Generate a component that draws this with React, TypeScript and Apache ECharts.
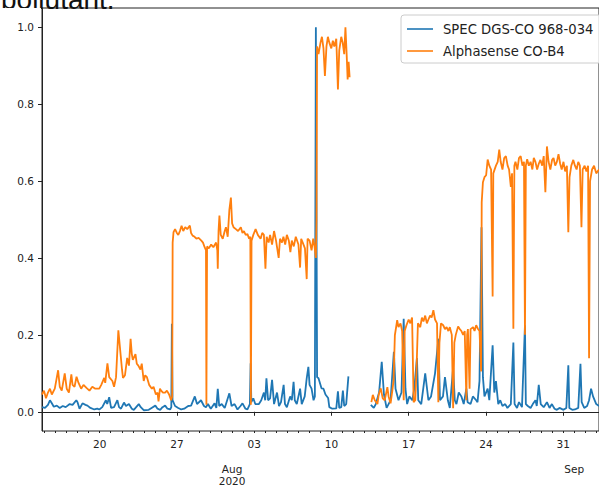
import React, { useEffect, useRef } from "react";
import * as echarts from "echarts";

// x = day counted from 1 July 2020 (20 = 20 Jul, 32 = 1 Aug, 63 = 1 Sep)
const xMin = 14.77;
const xMax = 65.25;

const yTickValues = [0, 0.2, 0.4, 0.6, 0.8, 1.0];
const majorTickDays = [20, 27, 34, 41, 48, 55, 62];
const majorTickLabels = ["20", "27", "03", "10", "17", "24", "31"];
const minorTickDays = [15, 16, 17, 18, 19, 20, 21, 22, 23, 24, 25, 26, 27, 28, 29, 30, 31, 32, 33, 34, 35, 36, 37, 38, 39, 40, 41, 42, 43, 44, 45, 46, 47, 48, 49, 50, 51, 52, 53, 54, 55, 56, 57, 58, 59, 60, 61, 62, 63, 64, 65];
const monthTickDays = [32, 63];
const monthTickLabels = ["Aug\n2020", "Sep"];

const seriesNames = ["SPEC DGS-CO 968-034", "Alphasense CO-B4"];

const specCO: [number, number | string][] = [
  [14.77, 0.012], [15.04, 0.010], [15.31, 0.018], [15.49, 0.030], [15.66, 0.022], [15.84, 0.013], [16.11, 0.016], [16.38, 0.010],
  [16.65, 0.015], [16.92, 0.012], [17.28, 0.020], [17.54, 0.018], [17.88, 0.030], [17.99, 0.025], [18.17, 0.008], [18.44, 0.022],
  [18.71, 0.018], [18.89, 0.016], [19.16, 0.010], [19.51, 0.006], [19.78, 0.008], [19.96, 0.006], [20.23, 0.012], [20.56, 0.030],
  [20.68, 0.020], [20.86, 0.038], [21.03, 0.010], [21.30, 0.012], [21.60, 0.030], [21.75, 0.012], [21.93, 0.008], [22.20, 0.024],
  [22.38, 0.015], [22.65, 0.020], [22.91, 0.008], [23.09, 0.005], [23.54, 0.020], [23.72, 0.012], [23.99, 0.004], [24.44, 0.005],
  [24.70, 0.010], [25.04, 0.016], [25.24, 0.008], [25.48, 0.005], [25.69, 0.012], [25.93, 0.016], [26.14, 0.008], [26.38, 0.006],
  [26.49, 0.012], [26.54, 0.229], [26.60, 0.030], [26.83, 0.015], [27.12, 0.010], [27.39, 0.006], [27.66, 0.008], [28.02, 0.015],
  [28.28, 0.016], [28.62, 0.040], [28.82, 0.020], [29.18, 0.030], [29.45, 0.015], [29.63, 0.012], [29.81, 0.020], [30.07, 0.008],
  [30.41, 0.022], [30.57, 0.010], [30.70, 0.060], [30.83, 0.015], [31.06, 0.020], [31.33, 0.010], [31.75, 0.048], [31.95, 0.015],
  [32.22, 0.020], [32.49, 0.006], [32.76, 0.015], [32.94, 0.022], [33.21, 0.008], [33.39, 0.006], [33.61, 0.020], [33.68, 0.126],
  [33.74, 0.025], [33.92, 0.035], [34.10, 0.020], [34.43, 0.020], [34.64, 0.030], [34.88, 0.050], [35.00, 0.030], [35.11, 0.087],
  [35.26, 0.030], [35.44, 0.035], [35.62, 0.083], [35.80, 0.020], [36.07, 0.050], [36.25, 0.015], [36.43, 0.025], [36.67, 0.070],
  [36.79, 0.020], [36.96, 0.012], [37.26, 0.040], [37.41, 0.030], [37.57, 0.078], [37.68, 0.030], [37.86, 0.020], [38.16, 0.060],
  [38.31, 0.020], [38.58, 0.040], [38.76, 0.087], [38.91, 0.117], [39.02, 0.070], [39.20, 0.060], [39.38, 0.030], [39.50, 0.040],
  [39.59, 1.000], [39.70, 0.090], [39.83, 0.087], [40.10, 0.061], [40.28, 0.060], [40.46, 0.045], [40.70, 0.036], [40.81, 0.012],
  [41.08, 0.008], [41.44, 0.009], [41.59, 0.053], [41.71, 0.010], [41.89, 0.012], [42.04, 0.055], [42.16, 0.015], [42.34, 0.020],
  [42.54, 0.092], [43.5, "-"],
  [44.57, 0.018], [44.84, 0.010], [45.02, 0.020], [45.32, 0.050], [45.56, 0.130], [45.76, 0.045], [46.00, 0.010], [46.18, 0.020],
  [46.36, 0.030], [46.66, 0.156], [46.81, 0.060], [47.08, 0.030], [47.35, 0.050], [47.55, 0.242], [47.71, 0.060], [47.86, 0.020],
  [48.06, 0.040], [48.33, 0.030], [48.51, 0.060], [48.75, 0.140], [48.87, 0.030], [49.14, 0.020], [49.50, 0.100], [49.79, 0.030],
  [50.03, 0.040], [50.39, 0.100], [50.69, 0.190], [50.84, 0.030], [51.11, 0.040], [51.29, 0.090], [51.55, 0.030], [51.73, 0.010],
  [52.03, 0.115], [52.18, 0.030], [52.33, 0.020], [52.54, 0.050], [52.78, 0.040], [52.99, 0.020], [53.23, 0.060], [53.34, 0.025],
  [53.61, 0.020], [53.82, 0.040], [54.12, 0.030], [54.24, 0.025], [54.42, 0.080], [54.60, 0.480], [54.73, 0.090], [54.87, 0.040],
  [55.16, 0.060], [55.31, 0.030], [55.61, 0.173], [55.76, 0.050], [55.91, 0.080], [56.12, 0.020], [56.30, 0.030], [56.50, 0.015],
  [56.75, 0.020], [56.95, 0.010], [57.26, 0.020], [57.49, 0.180], [57.60, 0.020], [57.82, 0.010], [58.00, 0.025], [58.27, 0.012],
  [58.54, 0.225], [58.62, 0.020], [58.80, 0.015], [59.05, 0.010], [59.25, 0.020], [59.49, 0.030], [59.61, 0.015], [59.79, 0.070],
  [59.97, 0.020], [60.24, 0.012], [60.53, 0.025], [60.77, 0.010], [60.98, 0.020], [61.22, 0.008], [61.43, 0.005], [61.67, 0.010],
  [62.03, 0.005], [62.29, 0.010], [62.47, 0.121], [62.56, 0.010], [62.83, 0.005], [63.07, 0.006], [63.37, 0.010], [63.57, 0.125],
  [63.68, 0.025], [63.91, 0.010], [64.17, 0.015], [64.35, 0.030], [64.53, 0.060], [64.71, 0.040], [65.00, 0.020], [65.25, 0.015],
];

const alphaCOB4: [number, number | string][] = [
  [14.77, 0.045], [14.95, 0.055], [15.13, 0.035], [15.31, 0.050], [15.49, 0.060], [15.66, 0.045], [15.93, 0.060], [16.23, 0.108],
  [16.38, 0.065], [16.56, 0.055], [16.83, 0.100], [17.01, 0.060], [17.21, 0.050], [17.43, 0.097], [17.54, 0.070], [17.72, 0.065],
  [17.90, 0.091], [18.08, 0.075], [18.32, 0.060], [18.53, 0.070], [18.80, 0.062], [19.07, 0.055], [19.33, 0.065], [19.60, 0.060],
  [19.96, 0.060], [20.14, 0.070], [20.41, 0.088], [20.50, 0.075], [20.70, 0.126], [20.86, 0.090], [21.15, 0.080], [21.30, 0.065],
  [21.48, 0.090], [21.69, 0.212], [21.90, 0.147], [22.02, 0.110], [22.11, 0.088], [22.29, 0.095], [22.49, 0.140], [22.65, 0.120],
  [22.80, 0.190], [22.91, 0.150], [23.00, 0.135], [23.24, 0.150], [23.36, 0.125], [23.50, 0.120], [23.69, 0.110], [23.81, 0.125],
  [23.99, 0.080], [24.12, 0.095], [24.28, 0.090], [24.48, 0.070], [24.73, 0.060], [24.88, 0.065], [25.09, 0.045], [25.24, 0.050],
  [25.33, 0.027], [25.46, 0.060], [25.57, 0.055], [25.73, 0.050], [25.93, 0.050], [26.09, 0.055], [26.29, 0.045], [26.47, 0.030],
  [26.57, 0.040], [26.61, 0.440], [26.69, 0.467], [26.83, 0.475], [26.99, 0.465], [27.12, 0.460], [27.27, 0.470], [27.42, 0.484],
  [27.57, 0.470], [27.75, 0.480], [27.93, 0.475], [28.17, 0.484], [28.28, 0.465], [28.42, 0.458], [28.60, 0.455], [28.76, 0.450],
  [28.96, 0.452], [29.21, 0.445], [29.36, 0.440], [29.51, 0.428], [29.63, 0.420], [29.67, 0.018], [29.73, 0.430], [29.89, 0.425],
  [30.10, 0.435], [30.30, 0.428], [30.55, 0.440], [30.66, 0.420], [30.70, 0.372], [30.77, 0.470], [30.85, 0.510], [30.97, 0.460],
  [31.15, 0.450], [31.33, 0.470], [31.44, 0.480], [31.60, 0.455], [31.75, 0.525], [31.89, 0.557], [32.00, 0.490], [32.13, 0.480],
  [32.34, 0.475], [32.54, 0.470], [32.79, 0.480], [32.94, 0.465], [33.07, 0.470], [33.23, 0.460], [33.39, 0.462], [33.54, 0.450],
  [33.65, 0.455], [33.70, 0.018], [33.76, 0.445], [33.92, 0.460], [34.13, 0.475], [34.33, 0.460], [34.58, 0.450], [34.73, 0.465],
  [34.88, 0.460], [35.02, 0.372], [35.13, 0.455], [35.31, 0.440], [35.44, 0.460], [35.62, 0.435], [35.80, 0.470], [35.98, 0.445],
  [36.22, 0.400], [36.34, 0.450], [36.52, 0.440], [36.65, 0.455], [36.81, 0.435], [36.96, 0.460], [37.14, 0.445], [37.28, 0.415],
  [37.41, 0.445], [37.59, 0.430], [37.77, 0.455], [38.01, 0.435], [38.16, 0.375], [38.26, 0.450], [38.40, 0.440], [38.60, 0.425],
  [38.76, 0.345], [38.84, 0.450], [39.02, 0.445], [39.20, 0.420], [39.35, 0.450], [39.47, 0.430], [39.59, 0.400], [39.65, 0.500],
  [39.70, 0.950], [39.83, 0.930], [40.01, 0.960], [40.14, 0.975], [40.28, 0.945], [40.41, 0.873], [40.55, 0.950], [40.68, 0.975],
  [40.81, 0.960], [40.99, 0.945], [41.13, 0.965], [41.26, 0.950], [41.44, 0.970], [41.59, 0.838], [41.71, 0.940], [41.89, 0.975],
  [42.02, 0.960], [42.16, 0.930], [42.27, 1.000], [42.38, 0.930], [42.47, 0.864], [42.56, 0.910], [42.65, 0.870], [43.5, "-"],
  [44.62, 0.025], [44.75, 0.044], [44.93, 0.030], [45.17, 0.020], [45.29, 0.045], [45.47, 0.061], [45.65, 0.035], [45.83, 0.030],
  [46.07, 0.064], [46.18, 0.040], [46.36, 0.022], [46.52, 0.055], [46.63, 0.080], [46.75, 0.199], [46.96, 0.238], [47.08, 0.220],
  [47.26, 0.230], [47.41, 0.210], [47.55, 0.030], [47.64, 0.210], [47.80, 0.225], [48.00, 0.240], [48.15, 0.230], [48.31, 0.245],
  [48.45, 0.025], [48.60, 0.030], [48.69, 0.090], [48.84, 0.230], [49.05, 0.220], [49.20, 0.245], [49.34, 0.235], [49.50, 0.250],
  [49.65, 0.230], [49.79, 0.240], [49.94, 0.250], [50.08, 0.245], [50.24, 0.264], [50.39, 0.240], [50.57, 0.230], [50.69, 0.025],
  [50.79, 0.180], [50.93, 0.230], [51.13, 0.225], [51.29, 0.215], [51.44, 0.220], [51.60, 0.210], [51.73, 0.220], [51.91, 0.200],
  [52.03, 0.009], [52.14, 0.180], [52.27, 0.200], [52.48, 0.222], [52.63, 0.215], [52.78, 0.210], [52.94, 0.200], [53.08, 0.210],
  [53.23, 0.030], [53.30, 0.200], [53.37, 0.215], [53.52, 0.060], [53.61, 0.215], [53.84, 0.220], [53.97, 0.210], [54.12, 0.225],
  [54.27, 0.216], [54.42, 0.210], [54.57, 0.105], [54.62, 0.545], [54.73, 0.597], [54.87, 0.610], [55.02, 0.615], [55.16, 0.656],
  [55.31, 0.640], [55.47, 0.630], [55.61, 0.300], [55.67, 0.620], [55.91, 0.640], [56.07, 0.650], [56.21, 0.682], [56.34, 0.650],
  [56.50, 0.630], [56.66, 0.660], [56.81, 0.665], [56.97, 0.640], [57.10, 0.630], [57.26, 0.585], [57.37, 0.620], [57.49, 0.216],
  [57.58, 0.640], [57.68, 0.650], [57.85, 0.630], [58.00, 0.660], [58.15, 0.665], [58.31, 0.640], [58.45, 0.650], [58.54, 0.200],
  [58.62, 0.640], [58.74, 0.657], [58.89, 0.640], [59.05, 0.650], [59.21, 0.630], [59.34, 0.660], [59.49, 0.650], [59.64, 0.630],
  [59.79, 0.645], [59.94, 0.655], [60.10, 0.640], [60.24, 0.665], [60.39, 0.571], [60.53, 0.690], [60.68, 0.650], [60.84, 0.630],
  [61.00, 0.655], [61.13, 0.660], [61.28, 0.640], [61.43, 0.650], [61.58, 0.670], [61.73, 0.645], [61.87, 0.630], [62.03, 0.650],
  [62.18, 0.625], [62.34, 0.640], [62.47, 0.467], [62.58, 0.610], [62.74, 0.640], [62.92, 0.655], [63.07, 0.640], [63.22, 0.630],
  [63.37, 0.650], [63.52, 0.640], [63.66, 0.480], [63.77, 0.630], [63.95, 0.640], [64.11, 0.625], [64.26, 0.640], [64.35, 0.139],
  [64.44, 0.600], [64.62, 0.630], [64.80, 0.640], [65.00, 0.620], [65.25, 0.630],
];

const blue = "#1f77b4";
const orange = "#ff7f0e";
const ink = "#222";
const tickFont = "DejaVu Sans";

export default function App() {
  const ref = useRef<HTMLDivElement>(null);
  useEffect(() => {
    if (!ref.current) return;
    const chart = echarts.init(ref.current, undefined, { renderer: "svg" });
    const majorLabel = (v: number) => {
      const i = majorTickDays.findIndex((d) => Math.abs(d - v) < 1e-6);
      return i >= 0 ? majorTickLabels[i] : "";
    };
    const monthLabel = (v: number) => {
      const i = monthTickDays.findIndex((d) => Math.abs(d - v) < 1e-6);
      return i >= 0 ? monthTickLabels[i] : "";
    };
    chart.setOption({
      animation: false,
      backgroundColor: "#fff",
      graphic: [
        {
          type: "text",
          x: 1,
          y: -1,
          z: 0,
          style: {
            text: "pollutant.",
            font: "28px 'Liberation Sans', Arial, sans-serif",
            fill: "#111",
            verticalAlign: "middle",
          },
        },
        {
          type: "rect",
          z: 1,
          shape: { x: 0, y: 8, width: 41, height: 12 },
          style: { fill: "#fff" },
        },
      ],
      grid: {
        left: 42,
        top: 8,
        width: 564,
        height: 425,
        show: true,
        borderColor: ink,
        borderWidth: 1,
        backgroundColor: "transparent",
        containLabel: false,
      },
      legend: {
        left: 401,
        top: 15,
        orient: "vertical",
        icon: "rect",
        itemWidth: 26,
        itemHeight: 1.6,
        itemGap: 6,
        padding: [6, 8, 4, 6],
        borderColor: "#cccccc",
        borderWidth: 1,
        borderRadius: 3,
        backgroundColor: "rgba(255,255,255,0.8)",
        textStyle: {
          fontFamily: tickFont,
          fontSize: 13.2,
          color: ink,
          lineHeight: 16,
          padding: [0, 0, 0, 5],
        },
        data: seriesNames,
      },
      xAxis: [
        {
          type: "value",
          min: xMin,
          max: xMax,
          position: "bottom",
          axisLine: { show: true, lineStyle: { color: ink, width: 1 } },
          axisTick: { show: true, customValues: majorTickDays, length: 4, lineStyle: { color: ink } },
          axisLabel: {
            show: true,
            customValues: majorTickDays,
            formatter: majorLabel,
            margin: 7,
            fontFamily: tickFont,
            fontSize: 10.5,
            color: ink,
          },
          splitLine: { show: false },
        },
        {
          type: "value",
          min: xMin,
          max: xMax,
          position: "bottom",
          axisLine: { show: false },
          axisTick: { show: true, customValues: minorTickDays, length: 2, lineStyle: { color: ink } },
          axisLabel: {
            show: true,
            customValues: monthTickDays,
            formatter: monthLabel,
            margin: 32,
            fontFamily: tickFont,
            fontSize: 10.5,
            lineHeight: 12,
            color: ink,
          },
          splitLine: { show: false },
        },
      ],
      yAxis: {
        type: "value",
        min: -0.05,
        max: 1.05,
        axisLine: { show: true, lineStyle: { color: ink, width: 1 } },
        axisTick: { show: true, customValues: yTickValues, length: 4, lineStyle: { color: ink } },
        axisLabel: {
          show: true,
          customValues: yTickValues,
          formatter: (v: number) => v.toFixed(1),
          margin: 8,
          fontFamily: tickFont,
          fontSize: 10.5,
          color: ink,
        },
        splitLine: { show: false },
      },
      series: [
        {
          name: seriesNames[0],
          type: "line",
          xAxisIndex: 0,
          data: specCO,
          symbol: "none",
          color: blue,
          lineStyle: { color: blue, width: 1.8 },
          connectNulls: false,
          z: 2,
        },
        {
          name: seriesNames[1],
          type: "line",
          xAxisIndex: 0,
          data: alphaCOB4,
          symbol: "none",
          color: orange,
          lineStyle: { color: orange, width: 1.8 },
          connectNulls: false,
          z: 3,
        },
      ],
    });
    return () => chart.dispose();
  }, []);
  return (
    <div
      ref={ref}
      style={{ position: "fixed", left: 0, top: 0, width: 599, height: 487 }}
    />
  );
}
